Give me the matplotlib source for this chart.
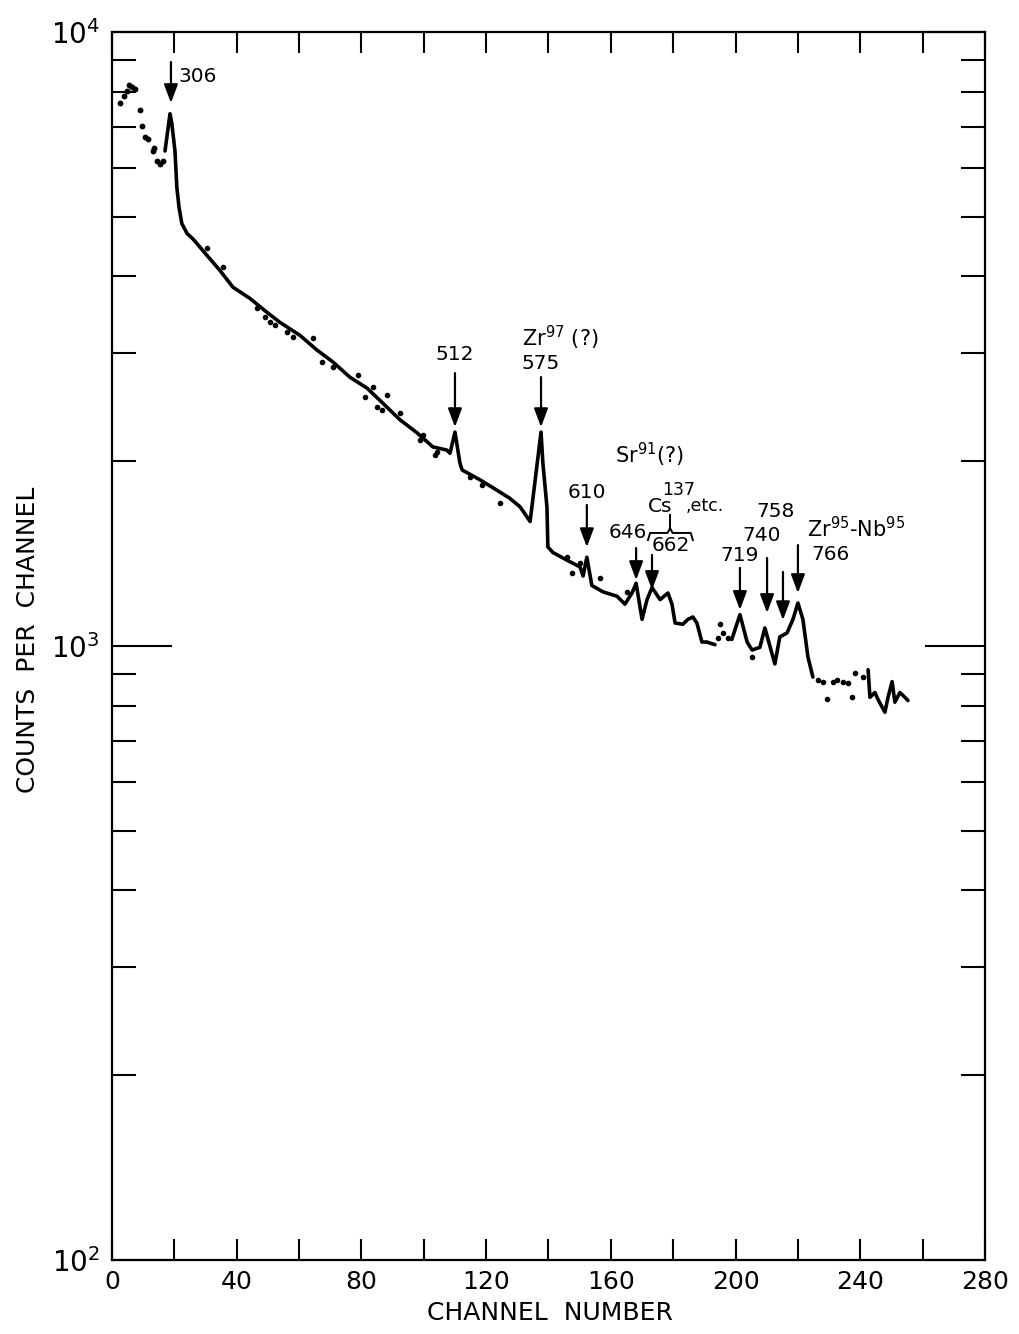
import matplotlib
matplotlib.use("Agg")
import matplotlib.pyplot as plt
from matplotlib.ticker import FixedLocator, NullFormatter, FixedFormatter

# ---------------- data ----------------
# sparse dots at the start of the spectrum
early_ch = [2.6, 3.8, 4.8, 5.6, 6.4, 7.4, 9.0, 9.6, 10.6, 11.5, 13.1, 13.6, 14.4, 15.4, 16.4]
early_cnt = [7665, 7870, 8020, 8200, 8140, 8080, 7470, 7030, 6750, 6700, 6400, 6480, 6170, 6100, 6170]

# main traced curve, segment 1
seg1_ch = [17.0, 18.0, 18.6, 19.2, 20.2, 20.8, 21.5, 22.4, 24.1, 26.0, 30.5, 34.6, 38.8, 44.3,
           49.7, 53.9, 60.3, 65.7, 70.9, 76.3, 81.8, 86.9, 92.4, 97.8, 102.9, 107.4, 108.4,
           110.0, 111.6, 112.3, 118.0, 122.2, 127.6, 130.9, 134.1, 137.6, 138.2, 139.5, 139.8,
           141.4, 145.9, 150.1, 151.1, 152.3, 153.9, 157.5, 162.0, 164.5, 166.8, 168.1, 170.0,
           171.6, 173.2, 175.8, 178.3, 179.6, 180.6, 183.1, 184.7, 186.3, 187.6, 189.2, 190.8,
           193.4]
seg1_cnt = [6400, 6980, 7360, 7085, 6400, 5580, 5180, 4875, 4695, 4600, 4325, 4090, 3840, 3680,
            3495, 3365, 3205, 3035, 2900, 2740, 2630, 2485, 2335, 2225, 2110, 2085, 2060,
            2230, 1985, 1935, 1865, 1810, 1740, 1685, 1595, 2230, 1985, 1685, 1450,
            1420, 1380, 1345, 1300, 1395, 1255, 1225, 1205, 1170, 1220, 1265, 1105,
            1190, 1245, 1190, 1220, 1170, 1090, 1085, 1105, 1115, 1090, 1015, 1015,
            1005]
# segment 2
seg2_ch = [198.8, 201.4, 203.7, 205.3, 207.8, 209.4, 211.0, 212.6, 214.2, 216.5, 218.4,
           220.0, 221.6, 223.2, 224.8]
seg2_cnt = [1025, 1125, 1015, 985, 995, 1070, 1000, 935, 1035, 1050, 1105,
            1175, 1105, 960, 890]
# segment 3
seg3_ch = [242.5, 243.1, 244.7, 245.6, 247.9, 248.9, 250.2, 251.1, 252.7, 254.3, 255.3]
seg3_cnt = [915, 825, 840, 820, 780, 825, 875, 810, 840, 825, 815]

# scattered single points around the curve
dots_ch = [30.5, 35.6, 46.5, 49.1, 50.7, 52.3, 56.1, 58.0, 64.5, 67.3, 70.9, 78.9, 81.1, 83.7,
           85.0, 86.6, 88.2, 92.4, 98.8, 99.7, 103.6, 104.2, 114.8, 118.7, 124.4, 145.9,
           147.5, 150.1, 156.5, 165.2, 194.5, 195.0, 196.0, 197.5, 205.3, 226.5, 228.0,
           229.3, 231.2, 232.5, 234.4, 236.0, 237.3, 238.3, 240.9]
dots_cnt = [4455, 4135, 3550, 3430, 3365, 3330, 3245, 3185, 3170, 2900, 2845, 2760, 2540, 2640,
            2450, 2420, 2560, 2395, 2165, 2205, 2045, 2070, 1885, 1830, 1710, 1395,
            1315, 1365, 1290, 1225, 1030, 1085, 1050, 1030, 960, 880, 875,
            820, 875, 880, 875, 870, 825, 905, 890]

# peak labels
peak_labels = ["306", "512", "575", "610", "719", "740", "758", "766"]
arrow_ch = [18.9, 110.0, 137.6, 152.3, 201.4, 210.1, 215.2, 220.0]
arrow_tail = [8935, 2783, 2742, 1697, 1340, 1391, 1320, 1460]
arrow_head = [7663, 2273, 2273, 1449, 1145, 1132, 1102, 1220]
text_x = [21.2, 110.0, 137.6, 152.3, 201.4, 208.2, 212.7, 230.6]
text_y = [8448, 2979, 2890, 1775, 1402, 1516, 1653, 1407]
text_ha = ["left", "center", "center", "center", "center", "center", "center", "center"]

# arrows without their own number label (646, 662)
extra_arrow_ch = [168.1, 173.2]
extra_arrow_tail = [1444, 1407]
extra_arrow_head = [1281, 1234]

x_ticks_major = [0, 40, 80, 120, 160, 200, 240, 280]
x_ticks_minor = [20, 60, 100, 140, 180, 220, 260]
y_major = [100, 1000, 10000]
y_major_labels = [r"$10^{2}$", r"$10^{3}$", r"$10^{4}$"]
y_minor = [200, 300, 400, 500, 600, 700, 800, 900,
           2000, 3000, 4000, 5000, 6000, 7000, 8000, 9000]

# ---------------- figure ----------------
plt.rcParams['font.family'] = ['DejaVu Sans']
plt.rcParams['mathtext.fontset'] = 'dejavusans'

W, H = 1020, 1334
fig = plt.figure(figsize=(W / 100, H / 100), dpi=100)
L, R, T, B = 112, 985, 32, 1260
ax = fig.add_axes([L / W, 1 - B / H, (R - L) / W, (B - T) / H])

ax.set_yscale('log')
ax.set_xlim(0, 280)
ax.set_ylim(100, 10000)

# curve
for cx, cy in ((seg1_ch, seg1_cnt), (seg2_ch, seg2_cnt), (seg3_ch, seg3_cnt)):
    ax.plot(cx, cy, color='black', lw=2.6, solid_capstyle='round', solid_joinstyle='round')
ax.plot(early_ch, early_cnt, linestyle='none', marker='o', ms=3.2, color='black')
ax.plot(dots_ch, dots_cnt, linestyle='none', marker='o', ms=3.0, color='black')

# spines
for s in ax.spines.values():
    s.set_linewidth(1.6)

# ticks
ax.xaxis.set_major_locator(FixedLocator(x_ticks_major))
ax.xaxis.set_minor_locator(FixedLocator(x_ticks_minor))
ax.xaxis.set_minor_formatter(NullFormatter())
ax.yaxis.set_major_locator(FixedLocator(y_major))
ax.yaxis.set_major_formatter(FixedFormatter(y_major_labels))
ax.yaxis.set_minor_locator(FixedLocator(y_minor))
ax.yaxis.set_minor_formatter(NullFormatter())

ax.tick_params(axis='x', which='both', direction='in', top=True, bottom=True,
               length=15, width=1.5, labelsize=18, pad=7)
ax.tick_params(axis='y', which='major', direction='in', left=True, right=True,
               length=43, width=1.5, labelsize=20, pad=9)
ax.tick_params(axis='y', which='minor', direction='in', left=True, right=True,
               length=17, width=1.5)

# axis titles
fig.text(550 / W, 1 - 1313 / H, "CHANNEL  NUMBER", ha='center', va='center', fontsize=18)
fig.text(28 / W, 1 - 640 / H, "COUNTS  PER  CHANNEL", ha='center', va='center',
         rotation=90, fontsize=18)

# arrows with labels
aprops = dict(arrowstyle='-|>,head_length=0.8,head_width=0.3', color='black', lw=1.6,
              shrinkA=0, shrinkB=0, mutation_scale=14)
for lab, xc, yt, yh, tx, ty, ha in zip(peak_labels, arrow_ch, arrow_tail, arrow_head,
                                       text_x, text_y, text_ha):
    ax.annotate("", xy=(xc, yh), xytext=(xc, yt), arrowprops=aprops)
    ax.text(tx, ty, lab, ha=ha, va='center', fontsize=14.5)
for xc, yt, yh in zip(extra_arrow_ch, extra_arrow_tail, extra_arrow_head):
    ax.annotate("", xy=(xc, yh), xytext=(xc, yt), arrowprops=aprops)

# isotope labels
ax.text(131.5, 3175, r"Zr$^{97}$ (?)", ha='left', va='center', fontsize=15)
ax.text(161.3, 2046, r"Sr$^{91}$(?)", ha='left', va='center', fontsize=15)
ax.text(222.9, 1556, r"Zr$^{95}$-Nb$^{95}$", ha='left', va='center', fontsize=15)
ax.text(171.9, 1690, "Cs", ha='left', va='center', fontsize=14.5)
ax.text(176.4, 1795, "137", ha='left', va='center', fontsize=12.5)
ax.text(184.1, 1690, ",etc.", ha='left', va='center', fontsize=12.5)
ax.text(171.6, 1528, "646", ha='right', va='center', fontsize=14.5)
ax.text(179.3, 1460, "662", ha='center', va='center', fontsize=14.5)

# brace over 662
brace_x = [171.9, 172.6, 178.2, 179.0, 179.8, 185.6, 186.3]
brace_y = [1488, 1528, 1528, 1556, 1528, 1528, 1488]
ax.plot(brace_x, brace_y, color='black', lw=1.4)
ax.plot([179.0, 179.0], [1556, 1635], color='black', lw=1.4)

fig.savefig("out.png", dpi=100)
